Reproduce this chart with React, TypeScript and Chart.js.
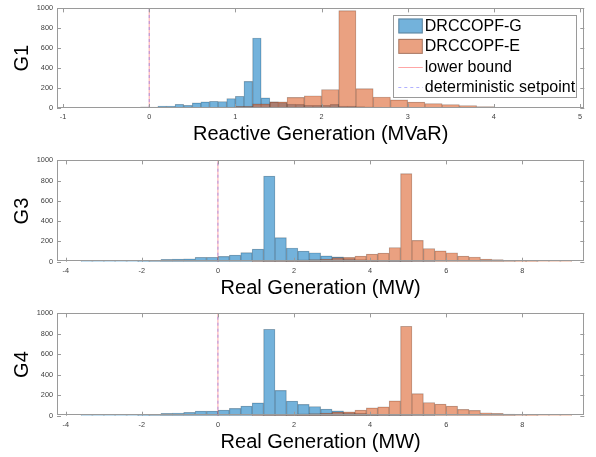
import React, { useEffect, useRef } from 'react';
import { Chart, registerables } from 'chart.js';

Chart.register(...registerables);

const FONT = "'Liberation Sans', Arial, Helvetica, sans-serif";

// ---------- labels ----------
const panelYLabels = ['G1', 'G3', 'G4'];
const panelXLabels = ['Reactive Generation (MVaR)', 'Real Generation (MW)', 'Real Generation (MW)'];
const seriesLabels = ['DRCCOPF-G', 'DRCCOPF-E', 'lower bound', 'deterministic setpoint'];

// ---------- axes ----------
const xMins = [-1.07, -4.23, -4.23];
const xMaxs = [5.05, 9.63, 9.63];
const xTickSteps = [1, 2, 2];
const yMin = 0;
const yMax = 1000;
const yTickStep = 200;

// ---------- histogram bins (start edge, bin width, counts) ----------
const g1BlueStart = -0.8;
const g1BlueWidth = 0.1;
const g1BlueCounts = [1, 1, 0, 1, 2, 3, 5, 12, 10, 20, 20, 38, 26, 52, 62, 68, 65, 95, 118, 268, 703, 101, 62, 55, 40, 36, 28, 26, 26, 36, 20, 20, 15, 12, 8, 6, 5, 3, 2, 2];

const g1OrangeStart = 0.8;
const g1OrangeWidth = 0.2;
const g1OrangeCounts = [10, 16, 42, 62, 107, 123, 186, 977, 195, 110, 81, 59, 45, 35, 25, 13, 6, 3, 2];

const g3BlueStart = -3.6;
const g3BlueWidth = 0.3;
const g3BlueCounts = [1, 1, 2, 1, 2, 5, 13, 23, 25, 28, 44, 44, 52, 65, 89, 124, 845, 238, 135, 104, 88, 58, 48, 30, 22, 15, 10, 6, 4, 2, 1];

const g3OrangeStart = 0.9;
const g3OrangeWidth = 0.3;
const g3OrangeCounts = [2, 4, 8, 12, 18, 20, 25, 40, 43, 55, 75, 85, 140, 870, 211, 130, 107, 88, 55, 46, 26, 20, 13, 7, 3, 2, 1, 1];

const g4BlueStart = -3.6;
const g4BlueWidth = 0.3;
const g4BlueCounts = [1, 1, 2, 1, 2, 5, 13, 23, 26, 32, 45, 45, 55, 71, 94, 126, 845, 248, 142, 110, 90, 65, 48, 30, 22, 15, 10, 6, 4, 2, 1];

const g4OrangeStart = 0.9;
const g4OrangeWidth = 0.3;
const g4OrangeCounts = [2, 4, 8, 12, 18, 20, 25, 38, 39, 55, 77, 87, 145, 874, 216, 129, 113, 94, 62, 52, 29, 23, 16, 9, 3, 2, 1, 1];

// vertical reference lines
const lowerBounds = [0, 0, 0];
const setpoints = [0, 0, 0];

// ---------- styles ----------
const BLUE = 'rgba(0,114,189,0.55)';
const ORANGE = 'rgba(217,83,25,0.55)';
const EDGE = 'rgba(40,40,40,0.35)';
const RED_LINE = 'rgba(255,0,0,0.35)';
const BLUE_LINE = 'rgba(60,60,255,0.4)';
const FRAME = '#9a9a9a';
const TICK_TEXT = '#404040';

const histograms = [
  { blue: [g1BlueStart, g1BlueWidth, g1BlueCounts], orange: [g1OrangeStart, g1OrangeWidth, g1OrangeCounts] },
  { blue: [g3BlueStart, g3BlueWidth, g3BlueCounts], orange: [g3OrangeStart, g3OrangeWidth, g3OrangeCounts] },
  { blue: [g4BlueStart, g4BlueWidth, g4BlueCounts], orange: [g4OrangeStart, g4OrangeWidth, g4OrangeCounts] },
] as const;

function binsToPoints(start: number, width: number, counts: readonly number[]) {
  return counts.map((c, i) => ({ x: start + (i + 0.5) * width, y: c }));
}

const framePlugin = {
  id: 'matlabFrame',
  afterDatasetsDraw(chart: any) {
    const { ctx, chartArea: a, scales } = chart;
    const tl = 4;
    ctx.save();
    ctx.strokeStyle = FRAME;
    ctx.lineWidth = 1;
    ctx.beginPath();
    scales.x.ticks.forEach((t: any) => {
      const p = Math.round(scales.x.getPixelForValue(t.value)) + 0.5;
      ctx.moveTo(p, a.bottom);
      ctx.lineTo(p, a.bottom - tl);
      ctx.moveTo(p, a.top);
      ctx.lineTo(p, a.top + tl);
    });
    scales.y.ticks.forEach((t: any) => {
      const p = Math.round(scales.y.getPixelForValue(t.value)) + 0.5;
      ctx.moveTo(a.left, p);
      ctx.lineTo(a.left + tl, p);
      ctx.moveTo(a.right, p);
      ctx.lineTo(a.right - tl, p);
    });
    ctx.stroke();
    ctx.strokeRect(Math.round(a.left) + 0.5, Math.round(a.top) + 0.5, Math.round(a.right - a.left) - 1, Math.round(a.bottom - a.top) - 1);
    ctx.restore();
  },
};

const legendPlugin = {
  id: 'insideLegend',
  afterDraw(chart: any) {
    const { ctx, chartArea } = chart;
    const ds = chart.data.datasets;
    const boxW = 184;
    const boxH = 83;
    const boxRight = chartArea.right - 7;
    const boxTop = chartArea.top + 6.3;
    const boxLeft = boxRight - boxW;
    ctx.save();
    ctx.fillStyle = '#ffffff';
    ctx.fillRect(boxLeft, boxTop, boxW, boxH);
    ctx.strokeStyle = FRAME;
    ctx.lineWidth = 1;
    ctx.strokeRect(Math.round(boxLeft) + 0.5, Math.round(boxTop) + 0.5, boxW - 1, boxH - 1);
    const symX = boxLeft + 5;
    const symW = 24.5;
    const textX = boxLeft + 31.5;
    ctx.font = `16px ${FONT}`;
    ctx.textBaseline = 'middle';
    ctx.textAlign = 'left';
    ds.forEach((d: any, i: number) => {
      const cy = boxTop + 11.3 + i * 20.4;
      if (d.type === 'line') {
        ctx.save();
        ctx.strokeStyle = d.borderColor;
        ctx.lineWidth = 1;
        ctx.setLineDash(d.borderDash || []);
        ctx.beginPath();
        ctx.moveTo(symX, Math.round(cy) + 0.5);
        ctx.lineTo(symX + symW, Math.round(cy) + 0.5);
        ctx.stroke();
        ctx.restore();
      } else {
        ctx.fillStyle = d.backgroundColor;
        ctx.fillRect(symX, cy - 7.5, symW, 15);
        ctx.strokeStyle = EDGE;
        ctx.strokeRect(symX + 0.5, cy - 7.5 + 0.5, symW - 1, 14);
      }
      ctx.fillStyle = '#000';
      ctx.fillText(d.label, textX, cy + 0.5);
    });
    ctx.restore();
  },
};

type PanelProps = { idx: number; top: number; height: number; padTop: number; axisH: number };

function Panel({ idx, top, height, padTop, axisH }: PanelProps) {
  const ref = useRef<HTMLCanvasElement>(null);
  useEffect(() => {
    const h = histograms[idx];
    const barCommon = {
      type: 'bar' as const,
      borderColor: EDGE,
      borderWidth: 0.5,
      borderSkipped: false,
      barPercentage: 1,
      categoryPercentage: 1,
      grouped: false,
    };
    const chart = new Chart(ref.current as HTMLCanvasElement, {
      type: 'bar',
      data: {
        datasets: [
          {
            ...barCommon,
            label: seriesLabels[0],
            data: binsToPoints(h.blue[0], h.blue[1], h.blue[2]),
            backgroundColor: BLUE,
            xAxisID: 'x',
            order: 4,
          } as any,
          {
            ...barCommon,
            label: seriesLabels[1],
            data: binsToPoints(h.orange[0], h.orange[1], h.orange[2]),
            backgroundColor: ORANGE,
            xAxisID: 'x2',
            order: 3,
          } as any,
          {
            type: 'line',
            label: seriesLabels[2],
            data: [
              { x: lowerBounds[idx], y: yMin },
              { x: lowerBounds[idx], y: yMax },
            ],
            borderColor: RED_LINE,
            borderWidth: 1,
            pointRadius: 0,
            xAxisID: 'x',
            order: 2,
          } as any,
          {
            type: 'line',
            label: seriesLabels[3],
            data: [
              { x: setpoints[idx], y: yMin },
              { x: setpoints[idx], y: yMax },
            ],
            borderColor: BLUE_LINE,
            borderDash: [3, 3],
            borderWidth: 1,
            pointRadius: 0,
            xAxisID: 'x',
            order: 1,
          } as any,
        ],
      },
      options: {
        responsive: false,
        maintainAspectRatio: false,
        animation: false,
        layout: { padding: { top: padTop, right: 11.7, left: 0, bottom: 0 } },
        plugins: { legend: { display: false }, tooltip: { enabled: false } },
        scales: {
          x: {
            type: 'linear',
            min: xMins[idx],
            max: xMaxs[idx],
            offset: false,
            grid: { display: false, drawTicks: false },
            border: { display: false },
            ticks: {
              stepSize: xTickSteps[idx],
              includeBounds: false,
              autoSkip: false,
              maxRotation: 0,
              padding: 4.5,
              color: TICK_TEXT,
              font: { size: 7.3, family: FONT },
              callback: (v: any) => String(v),
            },
            title: {
              display: true,
              text: panelXLabels[idx],
              color: '#000',
              font: { size: 20, family: FONT },
              padding: { top: 0, bottom: axisH - 38.5 },
            },
            afterFit: (s: any) => {
              s.height = axisH;
            },
          },
          x2: {
            type: 'linear',
            min: xMins[idx],
            max: xMaxs[idx],
            offset: false,
            display: false,
          },
          y: {
            type: 'linear',
            min: yMin,
            max: yMax,
            grid: { display: false, drawTicks: false },
            border: { display: false },
            ticks: {
              stepSize: yTickStep,
              padding: 4,
              color: TICK_TEXT,
              font: { size: 7.3, family: FONT },
              callback: (v: any) => String(v),
            },
            title: {
              display: true,
              text: panelYLabels[idx],
              color: '#000',
              font: { size: 20, family: FONT },
              padding: { top: 10.2, bottom: 0 },
            },
            afterFit: (s: any) => {
              s.width = 57;
            },
          },
        },
      } as any,
      plugins: idx === 0 ? [framePlugin, legendPlugin] : [framePlugin],
    });
    return () => chart.destroy();
  }, [idx, padTop, axisH]);
  return (
    <canvas
      ref={ref}
      width={596}
      height={height}
      style={{ position: 'absolute', left: 0, top, width: 596, height, display: 'block' }}
    />
  );
}

export default function App() {
  return (
    <div style={{ position: 'absolute', left: 0, top: 0, width: 596, height: 457, background: '#fff' }}>
      <Panel idx={0} top={0} height={152} padTop={6} axisH={44} />
      <Panel idx={1} top={152} height={153} padTop={7} axisH={43.3} />
      <Panel idx={2} top={305} height={152} padTop={7.3} axisH={41.3} />
    </div>
  );
}
